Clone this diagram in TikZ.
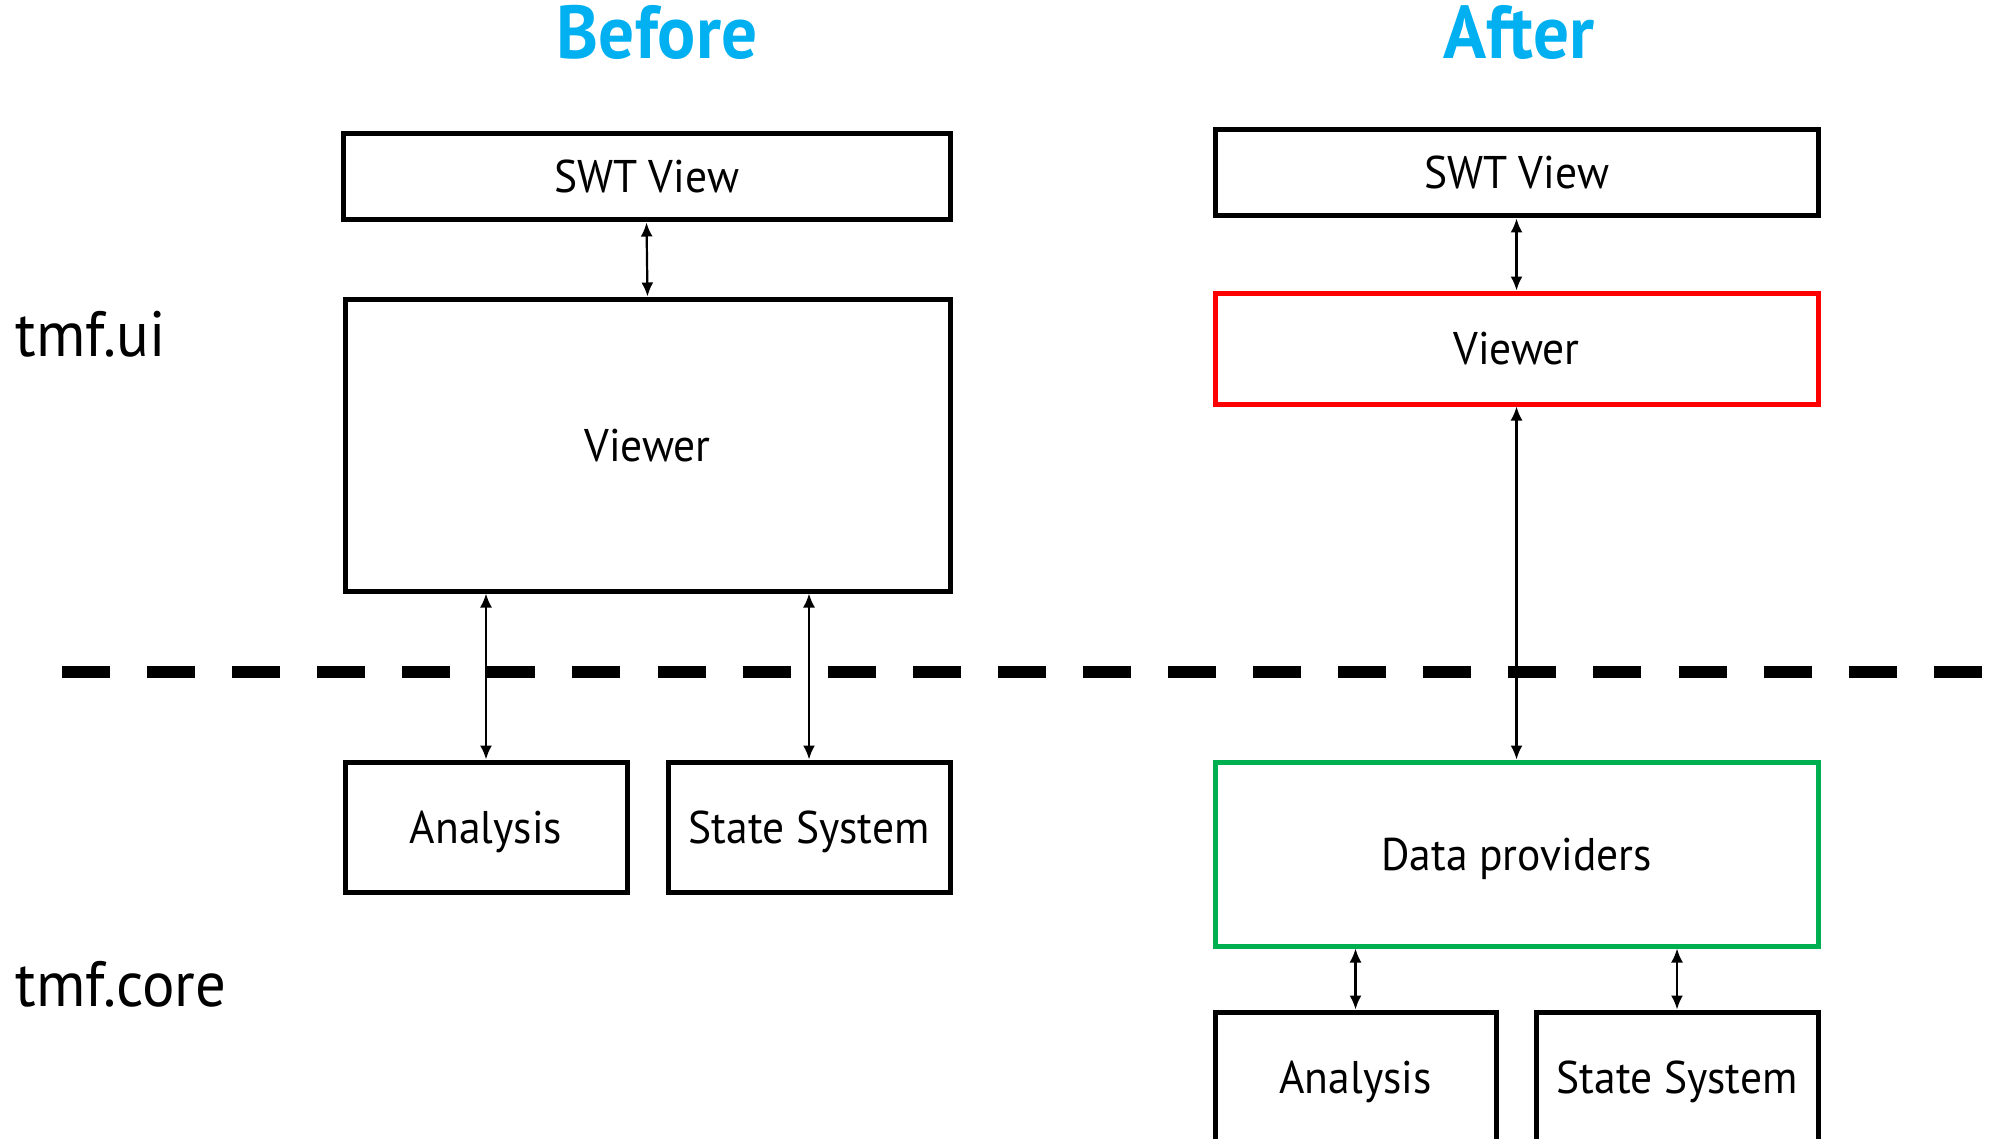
\documentclass[tikz,border=0pt]{standalone}
\usepackage{fontspec}
\setmainfont{PT Sans}[FakeStretch=0.95]
\usetikzlibrary{arrows.meta}
\definecolor{titleblue}{HTML}{00B0F0}
\definecolor{boxred}{HTML}{FF0000}
\definecolor{boxgreen}{HTML}{00B050}
\tikzset{
  blk/.style={draw=black, line width=2.5pt, rectangle, inner sep=0pt, fill=white,
    text height=16pt, text depth=0pt,
    font=\fontsize{22.9}{26}\selectfont},
  arr/.style={line width=1.1pt, {Latex[length=7pt,width=6pt]}-{Latex[length=7pt,width=6pt]}},
  ttl/.style={text=titleblue, font=\fontsize{37.5}{42}\selectfont\bfseries, anchor=base},
  layer/.style={font=\fontsize{32}{36}\selectfont, anchor=base west, inner sep=0pt},
}
\begin{document}
\begin{tikzpicture}[x=0.5pt,y=-0.5pt]
\useasboundingbox[fill=white] (0,0) rectangle (2000,1139);
% separator
\draw[line width=6pt, dash pattern=on 24pt off 18.54pt] (62,672) -- (1984,672);
% titles
\node[ttl] (tBefore) at (657,59) {Before};
\node[ttl] (tAfter) at (1519,59) {After};
% layer labels
\node[layer] (lui) at (15,356) {tmf.ui};
\node[layer] (lcore) at (15,1006) {tmf.core};
% Before
\node[blk, minimum width=303.5pt, minimum height=43pt] (swtB) at (646.5,177) {SWT View};
\node[blk, minimum width=302.5pt, minimum height=146pt] (viewB) at (647.5,445) {Viewer};
\node[blk, minimum width=141pt, minimum height=65pt] (anaB) at (486,827) {Analysis};
\node[blk, minimum width=141pt, minimum height=65pt] (ssB) at (809,827) {State System};
\draw[arr] (swtB.south) -- (viewB.north);
\draw[arr] (viewB.south -| anaB.north) -- (anaB.north);
\draw[arr] (viewB.south -| ssB.north) -- (ssB.north);
% After
\node[blk, minimum width=301.5pt, minimum height=43pt] (swtA) at (1516.5,173) {SWT View};
\node[blk, draw=boxred, minimum width=301.5pt, minimum height=55.5pt] (viewA) at (1516.5,348.5) {Viewer};
\node[blk, draw=boxgreen, minimum width=301.5pt, minimum height=92pt] (dpA) at (1516.5,854) {Data providers};
\node[blk, minimum width=140.5pt, minimum height=65pt] (anaA) at (1355.5,1077) {Analysis};
\node[blk, minimum width=141pt, minimum height=65pt] (ssA) at (1677,1077) {State System};
\draw[arr] (swtA.south) -- (viewA.north);
\draw[arr] (viewA.south) -- (dpA.north);
\draw[arr] (dpA.south -| anaA.north) -- (anaA.north);
\draw[arr] (dpA.south -| ssA.north) -- (ssA.north);
\end{tikzpicture}
\end{document}
